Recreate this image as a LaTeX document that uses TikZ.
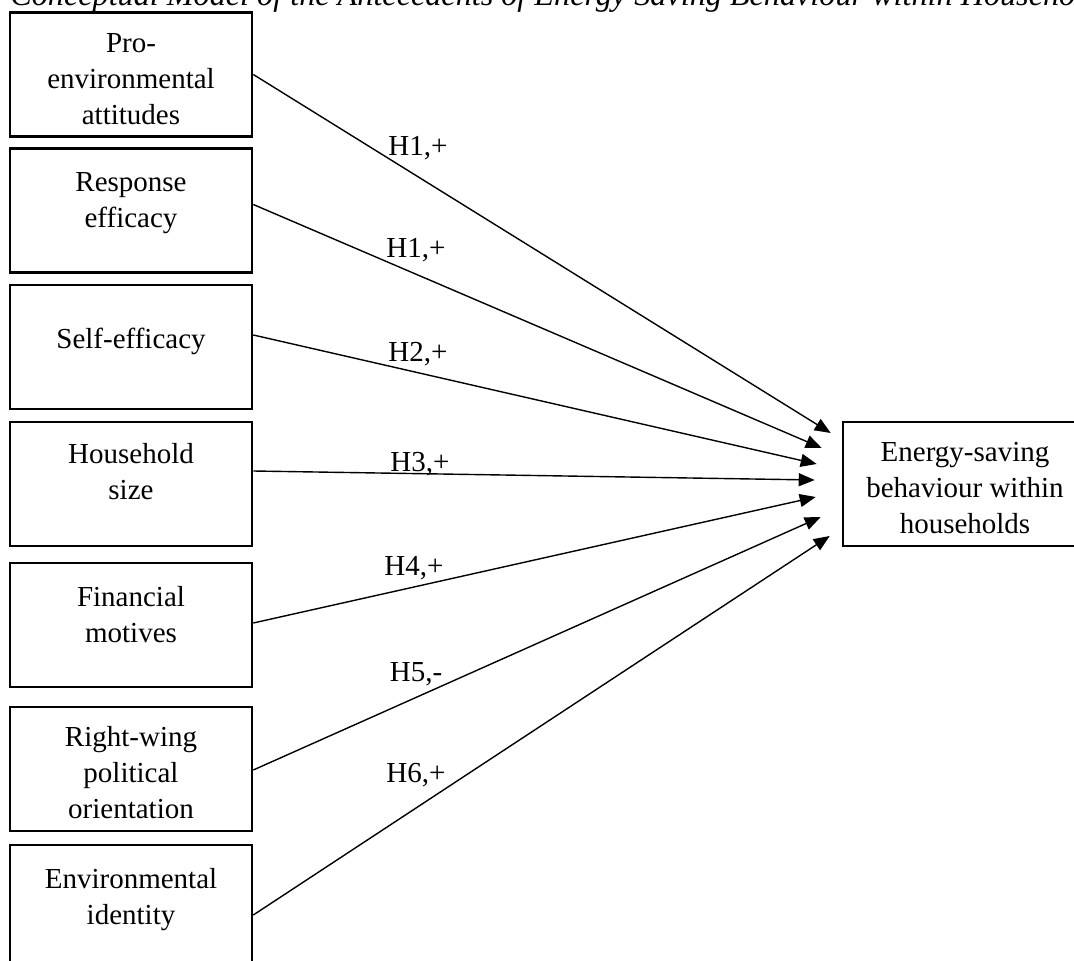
\documentclass[tikz,border=0pt]{standalone}
\usepackage{fontspec}
\setmainfont{Liberation Serif}
\usetikzlibrary{arrows.meta,calc}

\begin{document}
\begin{tikzpicture}[x=0.5pt,y=-0.5pt,
    factor/.style={draw, line width=1.3pt, minimum width=121pt, minimum height=62pt, inner sep=0pt},
    words/.style={align=center, font=\fontsize{14.5pt}{18pt}\selectfont, inner sep=0pt},
    hyp/.style={anchor=base, font=\fontsize{14.5pt}{18pt}\selectfont, inner sep=0pt},
    link/.style={line width=0.7pt, -{Triangle[length=8pt,width=6.5pt]}}]
    \useasboundingbox (0,0) rectangle (1074,961);
    \clip (0,0) rectangle (1074,961);
    \node[anchor=base west, inner sep=0pt, font=\fontsize{16.1pt}{20pt}\selectfont\itshape] (title) at (10,6)
	{Conceptual Model of the Antecedents of Energy Saving Behaviour within Households};
    \node[factor] (pro) at (131,74.5) {};
    \node[factor] (resp) at (131,210.5) {};
    \node[factor] (self) at (131,347) {};
    \node[factor] (house) at (131,484) {};
    \node[factor] (fin) at (131,625) {};
    \node[factor] (right) at (131,769) {};
    \node[factor] (ident) at (131,907) {};
    \node[factor, minimum width=122pt] (goal) at (965,484) {};
    \node[words] (pro-t) at (131,79) {Pro-\\environmental\\attitudes};
    \node[words] (resp-t) at (131,203) {Response\\efficacy};
    \node[words] (self-t) at (131,341) {Self-efficacy};
    \node[words] (house-t) at (131,472) {Household\\size};
    \node[words] (fin-t) at (131,615) {Financial\\motives};
    \node[words] (right-t) at (131,773) {Right-wing\\political\\orientation};
    \node[words] (ident-t) at (131,900) {Environmental\\identity};
    \node[words] (goal-t) at (965,488) {Energy-saving\\behaviour within\\households};
    \draw[link] (pro.east) -- ($(goal.west)+(-11,-51)$);
    \draw[link] ($(resp.east)+(0,-6)$) -- ($(goal.west)+(-20,-36)$);
    \draw[link] ($(self.east)+(0,-12)$) -- ($(goal.west)+(-25,-20)$);
    \draw[link] ($(house.east)+(0,-13)$) -- ($(goal.west)+(-27,-4)$);
    \draw[link] ($(fin.east)+(0,-2)$) -- ($(goal.west)+(-26,13)$);
    \draw[link] ($(right.east)+(0,1)$) -- ($(goal.west)+(-21,33)$);
    \draw[link] ($(ident.east)+(0,8)$) -- ($(goal.west)+(-12,52)$);
    \node[hyp] (h1a) at (418,156) {H1,+};
    \node[hyp] (h1b) at (416,258) {H1,+};
    \node[hyp] (h2) at (418,362) {H2,+};
    \node[hyp] (h3) at (420,472) {H3,+};
    \node[hyp] (h4) at (414,575) {H4,+};
    \node[hyp] (h5) at (416,681) {H5,-};
    \node[hyp] (h6) at (416,782) {H6,+};
\end{tikzpicture}
\end{document}
